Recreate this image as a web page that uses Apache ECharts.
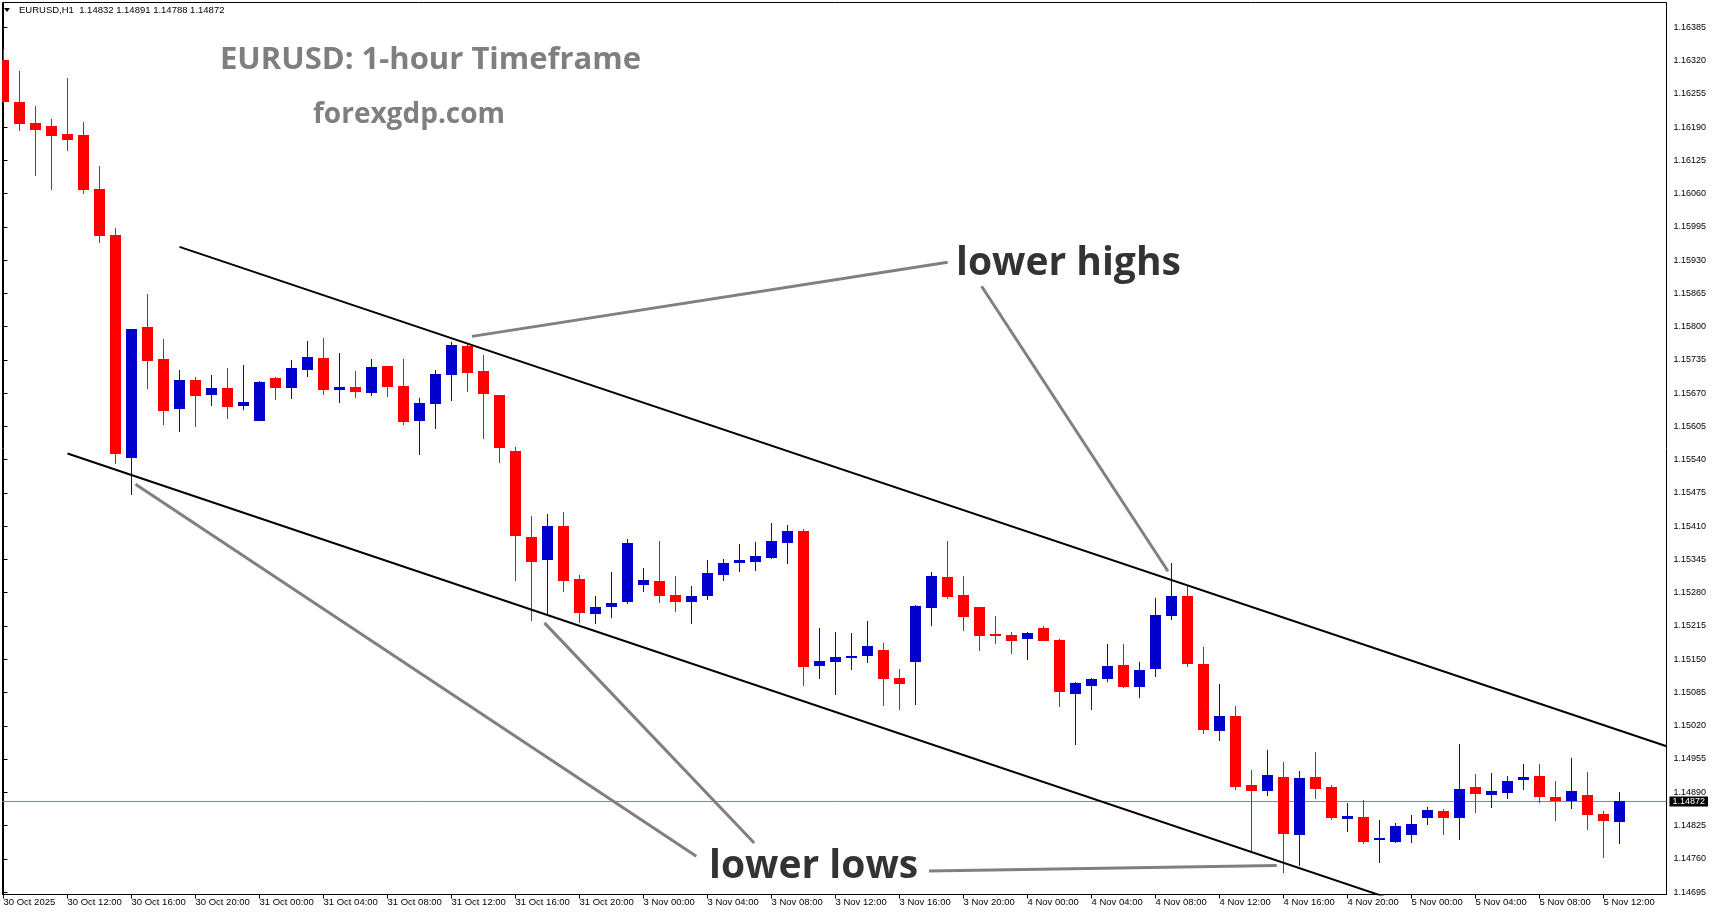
<!DOCTYPE html>
<html>
<head>
<meta charset="utf-8">
<title>EURUSD H1</title>
<script src="https://cdn.jsdelivr.net/npm/echarts@6/dist/echarts.min.js"></script>
<style>
  html, body { margin: 0; padding: 0; background: #fff; }
  #chart { width: 1714px; height: 915px; }
</style>
</head>
<body>
<div id="chart"></div>
<script>
// hourly sessions on screen: [day, first hour, last hour]
const sessions = [['30 Oct', 8, 23], ['31 Oct', 0, 23], ['3 Nov', 0, 23], ['4 Nov', 0, 23], ['5 Nov', 0, 13]];
const firstLabel = '30 Oct 2025';

const opens = [
  1.16321, 1.16239, 1.16198, 1.16192, 1.16177, 1.16175, 1.16069, 1.15979, 1.15544, 1.15799,
  1.15737, 1.15640, 1.15696, 1.15667, 1.15680, 1.15644, 1.15616, 1.15700, 1.15681, 1.15716,
  1.15739, 1.15677, 1.15682, 1.15671, 1.15723, 1.15684, 1.15616, 1.15649, 1.15706, 1.15762,
  1.15713, 1.15666, 1.15557, 1.15389, 1.15343, 1.15410, 1.15307, 1.15239, 1.15253, 1.15261,
  1.15296, 1.15303, 1.15276, 1.15261, 1.15274, 1.15315, 1.15339, 1.15341, 1.15348, 1.15378,
  1.15401, 1.15137, 1.15145, 1.15153, 1.15157, 1.15168, 1.15113, 1.15145, 1.15251, 1.15311,
  1.15276, 1.15252, 1.15199, 1.15197, 1.15190, 1.15211, 1.15188, 1.15083, 1.15098, 1.15112,
  1.15139, 1.15096, 1.15130, 1.15235, 1.15274, 1.15141, 1.15010, 1.15039, 1.14904, 1.14893,
  1.14920, 1.14807, 1.14920, 1.14900, 1.14838, 1.14842, 1.14796, 1.14793, 1.14807, 1.14840,
  1.14853, 1.14840, 1.14900, 1.14885, 1.14889, 1.14913, 1.14922, 1.14881, 1.14872, 1.14885,
  1.14848, 1.14832
];
const highs = [
  1.16342, 1.16300, 1.16231, 1.16206, 1.16286, 1.16200, 1.16114, 1.15993, 1.15796, 1.15864,
  1.15776, 1.15715, 1.15701, 1.15706, 1.15719, 1.15725, 1.15694, 1.15702, 1.15735, 1.15772,
  1.15778, 1.15749, 1.15713, 1.15737, 1.15724, 1.15737, 1.15661, 1.15715, 1.15770, 1.15766,
  1.15745, 1.15667, 1.15565, 1.15430, 1.15434, 1.15438, 1.15315, 1.15274, 1.15321, 1.15385,
  1.15329, 1.15382, 1.15313, 1.15294, 1.15344, 1.15346, 1.15375, 1.15379, 1.15416, 1.15412,
  1.15405, 1.15211, 1.15203, 1.15201, 1.15225, 1.15182, 1.15131, 1.15256, 1.15321, 1.15381,
  1.15313, 1.15253, 1.15235, 1.15203, 1.15203, 1.15215, 1.15189, 1.15105, 1.15113, 1.15180,
  1.15180, 1.15145, 1.15270, 1.15338, 1.15295, 1.15174, 1.15102, 1.15059, 1.14934, 1.14973,
  1.14949, 1.14932, 1.14969, 1.14904, 1.14869, 1.14875, 1.14836, 1.14830, 1.14846, 1.14861,
  1.14857, 1.14984, 1.14926, 1.14928, 1.14922, 1.14945, 1.14945, 1.14912, 1.14957, 1.14930,
  1.14853, 1.14891
];
const lows = [
  1.16237, 1.16183, 1.16095, 1.16068, 1.16144, 1.16060, 1.15964, 1.15532, 1.15470, 1.15679,
  1.15608, 1.15595, 1.15603, 1.15644, 1.15620, 1.15638, 1.15615, 1.15657, 1.15659, 1.15702,
  1.15667, 1.15651, 1.15661, 1.15665, 1.15663, 1.15608, 1.15550, 1.15599, 1.15655, 1.15673,
  1.15581, 1.15534, 1.15302, 1.15225, 1.15237, 1.15282, 1.15221, 1.15218, 1.15231, 1.15257,
  1.15282, 1.15259, 1.15243, 1.15218, 1.15266, 1.15303, 1.15321, 1.15323, 1.15345, 1.15337,
  1.15098, 1.15112, 1.15081, 1.15128, 1.15143, 1.15059, 1.15051, 1.15061, 1.15215, 1.15268,
  1.15206, 1.15167, 1.15180, 1.15161, 1.15149, 1.15185, 1.15057, 1.14983, 1.15051, 1.15106,
  1.15094, 1.15075, 1.15116, 1.15227, 1.15135, 1.15003, 1.14991, 1.14895, 1.14774, 1.14883,
  1.14733, 1.14746, 1.14876, 1.14836, 1.14813, 1.14789, 1.14752, 1.14791, 1.14791, 1.14827,
  1.14807, 1.14797, 1.14850, 1.14860, 1.14877, 1.14895, 1.14870, 1.14834, 1.14858, 1.14817,
  1.14762, 1.14788
];
const closes = [
  1.16240, 1.16197, 1.16185, 1.16173, 1.16165, 1.16068, 1.15978, 1.15552, 1.15795, 1.15732,
  1.15636, 1.15696, 1.15665, 1.15680, 1.15642, 1.15653, 1.15692, 1.15681, 1.15719, 1.15741,
  1.15677, 1.15682, 1.15673, 1.15721, 1.15683, 1.15614, 1.15651, 1.15707, 1.15764, 1.15710,
  1.15669, 1.15562, 1.15390, 1.15341, 1.15410, 1.15303, 1.15241, 1.15252, 1.15260, 1.15377,
  1.15305, 1.15274, 1.15261, 1.15274, 1.15319, 1.15338, 1.15344, 1.15352, 1.15381, 1.15401,
  1.15135, 1.15147, 1.15154, 1.15157, 1.15176, 1.15112, 1.15102, 1.15254, 1.15313, 1.15272,
  1.15233, 1.15196, 1.15196, 1.15186, 1.15201, 1.15186, 1.15085, 1.15104, 1.15111, 1.15137,
  1.15096, 1.15129, 1.15236, 1.15274, 1.15141, 1.15012, 1.15039, 1.14901, 1.14893, 1.14924,
  1.14809, 1.14918, 1.14897, 1.14840, 1.14844, 1.14793, 1.14801, 1.14824, 1.14828, 1.14855,
  1.14840, 1.14896, 1.14887, 1.14892, 1.14912, 1.14920, 1.14881, 1.14872, 1.14892, 1.14846,
  1.14834, 1.14872
];

const yTicks = [
  1.14695, 1.14760, 1.14825, 1.14890, 1.14955, 1.15020, 1.15085, 1.15150, 1.15215,
  1.15280, 1.15345, 1.15410, 1.15475, 1.15540, 1.15605, 1.15670, 1.15735, 1.15800,
  1.15865, 1.15930, 1.15995, 1.16060, 1.16125, 1.16190, 1.16255, 1.16320, 1.16385
];

// drawn objects, in [bar index, price]
const upperChannel = [[11, 1.15956], [103.94, 1.14980]];
const lowerChannel = [[4, 1.15552], [88, 1.14668]];
const pointerLines = [
  [[59.01, 1.15926], [29.28, 1.15781]],
  [[61.13, 1.15879], [72.78, 1.15322]],
  [[43.30, 1.14765], [8.25, 1.15492]],
  [[46.92, 1.14791], [33.81, 1.15221]],
  [[57.84, 1.14736], [79.58, 1.14747]]
];
const noteTexts = ['lower highs', 'lower lows'];
const notePoints = [[66.56, 1.15922], [50.63, 1.14745]];

const xMin = -0.0625;
const xMax = 103.9375;
const bullColor = '#0000cd';
const bearColor = '#ff0000';
const axisFont = '"Liberation Sans", Arial, sans-serif';

// build hour labels
const times = [];
const hours = [];
sessions.forEach(([day, h0, h1]) => {
  for (let h = h0; h <= h1; h++) {
    times.push(day + ' ' + String(h).padStart(2, '0') + ':00');
    hours.push(h);
  }
});
const xTickIdx = [];
hours.forEach((h, i) => { if (h % 4 === 0) xTickIdx.push(i); });

const last = closes[closes.length - 1];
const candles = opens.map((o, i) => [i, o, closes[i], lows[i], highs[i]]);

function renderCandle(params, api) {
  const i = api.value(0);
  const o = api.coord([i, api.value(1)]);
  const c = api.coord([i, api.value(2)]);
  const lo = api.coord([i, api.value(3)]);
  const hi = api.coord([i, api.value(4)]);
  const color = api.value(2) >= api.value(1) ? bullColor : bearColor;
  const top = Math.round(Math.min(o[1], c[1]));
  const bottom = Math.round(Math.max(o[1], c[1]));
  const half = 5.5;
  return {
    type: 'group',
    children: [
      {
        type: 'line',
        shape: { x1: o[0], y1: Math.round(hi[1]), x2: o[0], y2: Math.round(lo[1]) },
        style: { stroke: color, lineWidth: 1 }
      },
      {
        type: 'rect',
        shape: { x: o[0] - half, y: top, width: half * 2, height: Math.max(bottom - top, 1) },
        style: { fill: color }
      }
    ]
  };
}

const chart = echarts.init(document.getElementById('chart'));

const lineSeries = (data, color, width, z) => ({
  type: 'line',
  data: data,
  symbol: 'none',
  silent: true,
  z: z,
  lineStyle: { color: color, width: width },
  clip: true
});

chart.setOption({
  animation: false,
  backgroundColor: '#fff',
  grid: {
    left: 2.5, top: 2.5, width: 1664, height: 892,
    show: true, borderColor: '#000', borderWidth: 1,
    outerBoundsMode: 'none'
  },
  graphic: [
    { type: 'polygon', shape: { points: [[4, 8], [10, 8], [7, 12]] }, style: { fill: '#000' } },
    {
      type: 'text', x: 19, y: 10,
      style: {
        text: 'EURUSD,H1  1.14832 1.14891 1.14788 1.14872',
        font: '9.5px ' + axisFont, fill: '#000', verticalAlign: 'middle'
      }
    },
    {
      type: 'text', x: 220, y: 60,
      style: {
        text: 'EURUSD: 1-hour Timeframe',
        font: 'bold 31px "Open Sans", sans-serif', fill: '#7f7f7f', verticalAlign: 'middle'
      }
    },
    {
      type: 'text', x: 313, y: 115,
      style: {
        text: 'forexgdp.com',
        font: 'bold 28px "Open Sans", sans-serif', fill: '#7f7f7f', verticalAlign: 'middle'
      }
    }
  ],
  xAxis: {
    type: 'value',
    min: xMin,
    max: xMax,
    axisLine: { show: true, lineStyle: { color: '#000', width: 1 } },
    splitLine: { show: false },
    axisTick: { show: true, customValues: xTickIdx, length: 4, lineStyle: { color: '#000' } },
    axisLabel: {
      customValues: xTickIdx,
      formatter: v => {
        const i = Math.round(v);
        return i === 0 ? firstLabel : times[i];
      },
      align: 'left',
      margin: 3,
      fontSize: 9.5,
      fontFamily: axisFont,
      color: '#000'
    }
  },
  yAxis: {
    type: 'value',
    position: 'right',
    min: 1.146902,
    max: 1.164335,
    axisLine: { show: true, lineStyle: { color: '#000', width: 1 } },
    splitLine: { show: false },
    axisTick: { show: true, customValues: yTicks, length: 4, lineStyle: { color: '#000' } },
    axisLabel: {
      customValues: yTicks,
      formatter: v => v.toFixed(5),
      margin: 7,
      fontSize: 9,
      fontFamily: axisFont,
      color: '#000'
    }
  },
  series: [
    // current price line behind the candles
    {
      type: 'line',
      data: [[xMin, last], [xMax, last]],
      symbol: 'none',
      silent: true,
      z: 1,
      lineStyle: { color: '#778899', width: 1 },
      endLabel: {
        show: true,
        distance: 3,
        formatter: () => last.toFixed(5),
        backgroundColor: '#000',
        color: '#fff',
        padding: [1, 3, 0, 3],
        fontSize: 9,
        fontFamily: axisFont
      }
    },
    {
      type: 'custom',
      name: 'EURUSD',
      data: candles,
      renderItem: renderCandle,
      encode: { x: 0, y: [1, 2, 3, 4] },
      clip: true,
      z: 5
    },
    lineSeries(upperChannel, '#000', 2, 6),
    lineSeries(lowerChannel, '#000', 2, 6),
    ...pointerLines.map(seg => lineSeries(seg, '#808080', 3, 7)),
    {
      type: 'scatter',
      symbolSize: 0,
      silent: true,
      z: 8,
      data: notePoints.map((p, i) => ({ value: p, name: noteTexts[i] })),
      label: {
        show: true,
        position: 'inside',
        formatter: p => p.name,
        color: '#000',
        fontSize: 39,
        fontWeight: 'bold',
        fontFamily: '"Open Sans", sans-serif'
      }
    }
  ]
});
</script>
</body>
</html>
